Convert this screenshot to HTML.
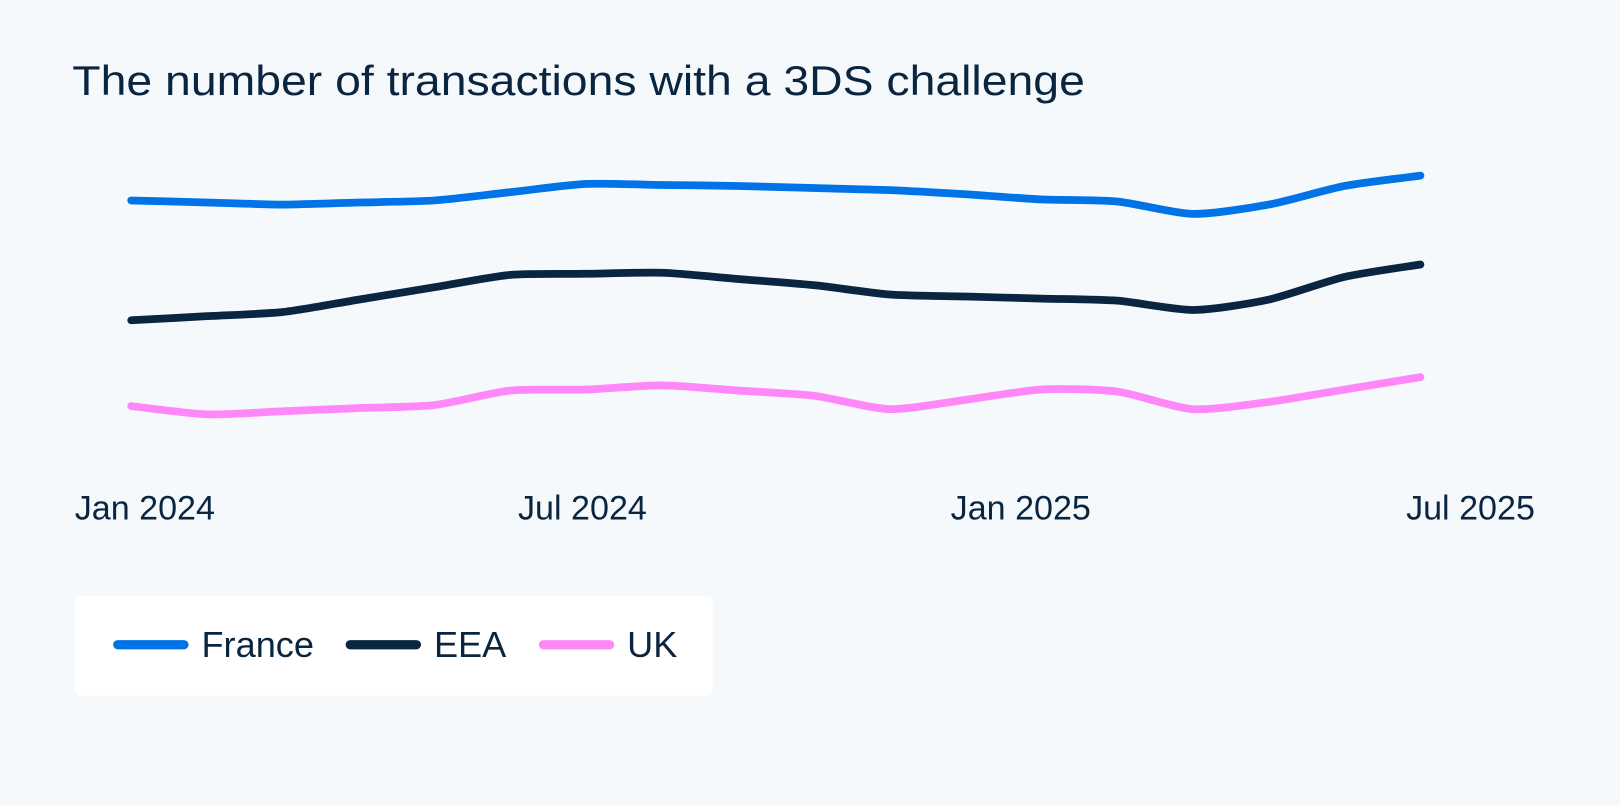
<!DOCTYPE html>
<html><head><meta charset="utf-8"><style>
html,body{margin:0;padding:0;background:#f6f9fc;}
body{width:1620px;height:801px;overflow:hidden;font-family:"Liberation Sans",sans-serif;}
</style></head><body>
<svg width="1620" height="801" viewBox="0 0 1620 801">
<rect width="1620" height="801" fill="#f6f9fc"/>
<g transform="scale(1.0332)">
<text x="70" y="92" font-size="40" textLength="980" lengthAdjust="spacingAndGlyphs" fill="#0a2540" font-family="Liberation Sans, sans-serif">The number of transactions with a 3DS challenge</text>
<g id="plot"></g>
<g id="xaxis"></g>
<rect x="72" y="577" width="618" height="96" rx="6" fill="#ffffff"/>
<g id="legend"></g>
</g>
</svg>
<script>
const months = ["Jan 2024","Feb 2024","Mar 2024","Apr 2024","May 2024","Jun 2024","Jul 2024","Aug 2024","Sep 2024","Oct 2024","Nov 2024","Dec 2024","Jan 2025","Feb 2025","Mar 2025","Apr 2025","May 2025","Jun 2025"];
const franceValues = [90.4,89.6,88.8,89.6,90.4,93.6,96.8,96.4,96,95.2,94.4,92.8,90.8,90,85.2,88.8,96,100];
const eeaValues = [44,45.6,47.2,52,56.8,61.6,62,62.4,60,57.6,54,53.2,52.4,51.6,48,52,60.8,65.6];
const ukValues = [10.8,7.6,8.8,10,11.2,16.8,17.2,18.8,16.8,14.8,9.6,13.2,17.2,16.4,9.6,12.4,17.2,22];
const tickLabels = ["Jan 2024","Jul 2024","Jan 2025","Jul 2025"];
const tickIndex = [0.18,5.95,11.73,17.66];
const seriesNames = ["France","EEA","UK"];
const seriesColors = ["#0073e6","#0a2540","#ff88f9"];

const NS="http://www.w3.org/2000/svg";
function xScale(i){return 127 + i*73.4;}
function yScale(v){return 420 - v*2.5;}
function smoothPath(vals){
  const p=vals.map((v,i)=>[xScale(i),yScale(v)]);
  let d="M"+p[0][0]+","+p[0][1];
  const t=0.12;
  for(let i=0;i<p.length-1;i++){
    const p0=p[i-1]||p[i],p1=p[i],p2=p[i+1],p3=p[i+2]||p[i+1];
    const c1=[p1[0]+(p2[0]-p0[0])*t,p1[1]+(p2[1]-p0[1])*t];
    const c2=[p2[0]-(p3[0]-p1[0])*t,p2[1]-(p3[1]-p1[1])*t];
    d+=" C"+c1[0]+","+c1[1]+" "+c2[0]+","+c2[1]+" "+p2[0]+","+p2[1];
  }
  return d;
}
const plot=document.getElementById("plot");
const allSeries=[franceValues,eeaValues,ukValues];
allSeries.forEach((vals,s)=>{
  const path=document.createElementNS(NS,"path");
  path.setAttribute("d",smoothPath(vals));
  path.setAttribute("fill","none");
  path.setAttribute("stroke",seriesColors[s]);
  path.setAttribute("stroke-width","7.5");
  path.setAttribute("stroke-linecap","round");
  path.setAttribute("stroke-linejoin","round");
  
  
  plot.appendChild(path);
});
const xaxis=document.getElementById("xaxis");
tickLabels.forEach((lab,i)=>{
  const tx=document.createElementNS(NS,"text");
  tx.setAttribute("x",xScale(tickIndex[i]));
  tx.setAttribute("y","503");
  tx.setAttribute("text-anchor","middle");
  tx.setAttribute("font-size","33");
  tx.setAttribute("fill","#0a2540");
  tx.textContent=lab;
  
  
  xaxis.appendChild(tx);
});
const legend=document.getElementById("legend");
const legX=[110,335,522];
seriesNames.forEach((n,s)=>{
  const g=document.createElementNS(NS,"g");
  
  
  const l=document.createElementNS(NS,"line");
  l.setAttribute("x1",legX[s]+4);l.setAttribute("x2",legX[s]+68);
  l.setAttribute("y1","624");l.setAttribute("y2","624");
  l.setAttribute("stroke",seriesColors[s]);l.setAttribute("stroke-width","9");
  l.setAttribute("stroke-linecap","round");
  
  
  const t=document.createElementNS(NS,"text");
  t.setAttribute("x",legX[s]+85);t.setAttribute("y","636");
  t.setAttribute("font-size","35");t.setAttribute("fill","#0a2540");
  t.textContent=n;
  
  
  g.appendChild(l);g.appendChild(t);legend.appendChild(g);
});
</script>
</body></html>
